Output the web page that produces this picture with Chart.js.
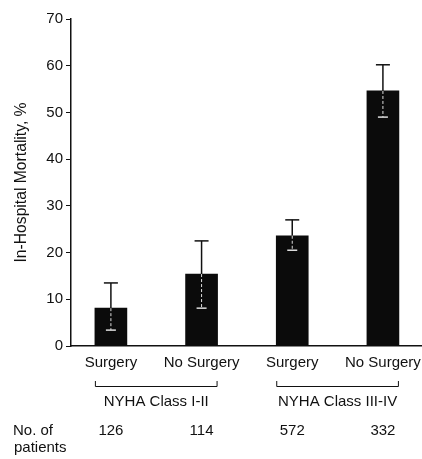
<!DOCTYPE html>
<html>
<head>
<meta charset="utf-8">
<script src="https://cdn.jsdelivr.net/npm/chart.js@4/dist/chart.umd.min.js"></script>
<style>
html,body{margin:0;padding:0;background:#fff;}
#wrap{width:422px;height:459px;position:relative;}
</style>
</head>
<body>
<div id="wrap"><canvas id="c" width="422" height="459"></canvas></div>
<script>
const categories = ["Surgery", "No Surgery", "Surgery", "No Surgery"];
const mortality = [8.1, 15.4, 23.6, 54.6];
const errorHigh = [13.5, 22.5, 27.0, 60.2];
const errorLow = [3.4, 8.1, 20.5, 49.0];
const groups = ["NYHA Class I-II", "NYHA Class III-IV"];
const patients = [126, 114, 572, 332];
const yTicks = [0, 10, 20, 30, 40, 50, 60, 70];

const FONT = '"Liberation Sans", Arial, Helvetica, sans-serif';
const INK = '#111';

const overlay = {
  id: 'overlay',
  afterDatasetsDraw(chart) {
    const ctx = chart.ctx;
    const xs = chart.scales.x, ys = chart.scales.y;
    ctx.save();
    // error bars
    mortality.forEach((v, i) => {
      const x = xs.getPixelForValue(i);
      const yb = ys.getPixelForValue(v);
      const yh = ys.getPixelForValue(errorHigh[i]);
      const yl = ys.getPixelForValue(errorLow[i]);
      ctx.strokeStyle = INK; ctx.lineWidth = 1.5; ctx.setLineDash([]);
      ctx.beginPath(); ctx.moveTo(x, yb); ctx.lineTo(x, yh); ctx.stroke();
      ctx.beginPath(); ctx.moveTo(x - 7, yh); ctx.lineTo(x + 7, yh); ctx.stroke();
      ctx.strokeStyle = '#ddd'; ctx.lineWidth = 1;
      ctx.setLineDash([3, 2]);
      ctx.beginPath(); ctx.moveTo(x, yb); ctx.lineTo(x, yl); ctx.stroke();
      ctx.setLineDash([]);
      ctx.lineWidth = 1.5;
      ctx.beginPath(); ctx.moveTo(x - 5, yl); ctx.lineTo(x + 5, yl); ctx.stroke();
    });
    // category labels
    ctx.fillStyle = INK;
    ctx.font = '15px ' + FONT;
    ctx.textAlign = 'center'; ctx.textBaseline = 'middle';
    categories.forEach((c, i) => ctx.fillText(c, xs.getPixelForValue(i), 363));
    // brackets + group labels
    ctx.strokeStyle = INK; ctx.lineWidth = 1;
    groups.forEach((g, k) => {
      const x0 = xs.getPixelForValue(2 * k) - 16;
      const x1 = xs.getPixelForValue(2 * k + 1) + 16;
      ctx.beginPath();
      ctx.moveTo(x0 + 0.5, 381); ctx.lineTo(x0 + 0.5, 386.5);
      ctx.lineTo(x1 - 0.5, 386.5); ctx.lineTo(x1 - 0.5, 381);
      ctx.stroke();
      ctx.fillText(g, (x0 + x1) / 2, 402);
    });
    // patients row
    patients.forEach((p, i) => ctx.fillText(String(p), xs.getPixelForValue(i), 431));
    ctx.textAlign = 'left';
    ctx.fillText('No. of', 13, 431);
    ctx.fillText('patients', 14, 448);
    ctx.restore();
  }
};

new Chart(document.getElementById('c'), {
  type: 'bar',
  data: {
    datasets: [{
      data: mortality.map((v, i) => ({ x: i, y: v })),
      backgroundColor: '#0b0b0b',
      borderWidth: 0,
      barThickness: 32
    }]
  },
  options: {
    responsive: false,
    animation: false,
    devicePixelRatio: 1,
    layout: { padding: { top: 19, right: 1, left: 0, bottom: 0 } },
    plugins: { legend: { display: false }, tooltip: { enabled: false } },
    scales: {
      x: {
        type: 'linear',
        offset: false,
        min: -0.44,
        max: 3.42,
        grid: { display: false },
        border: { display: true, color: INK, width: 1.5 },
        ticks: { display: false },
        afterFit(s) { s.height = 113; }
      },
      y: {
        min: 0,
        max: 70,
        afterBuildTicks(s) { s.ticks = yTicks.map(v => ({ value: v })); },
        grid: { display: true, drawOnChartArea: false, drawTicks: true, tickLength: 5, color: INK, lineWidth: 1 },
        border: { display: true, color: INK, width: 1.5 },
        ticks: { color: INK, font: { size: 15, family: FONT }, padding: 3 },
        title: { display: true, text: 'In-Hospital Mortality, %', color: INK, font: { size: 15.7, family: FONT }, padding: { top: 12, bottom: 8 } },
        afterFit(s) { s.width = 71; }
      }
    }
  },
  plugins: [overlay]
});
</script>
</body>
</html>
